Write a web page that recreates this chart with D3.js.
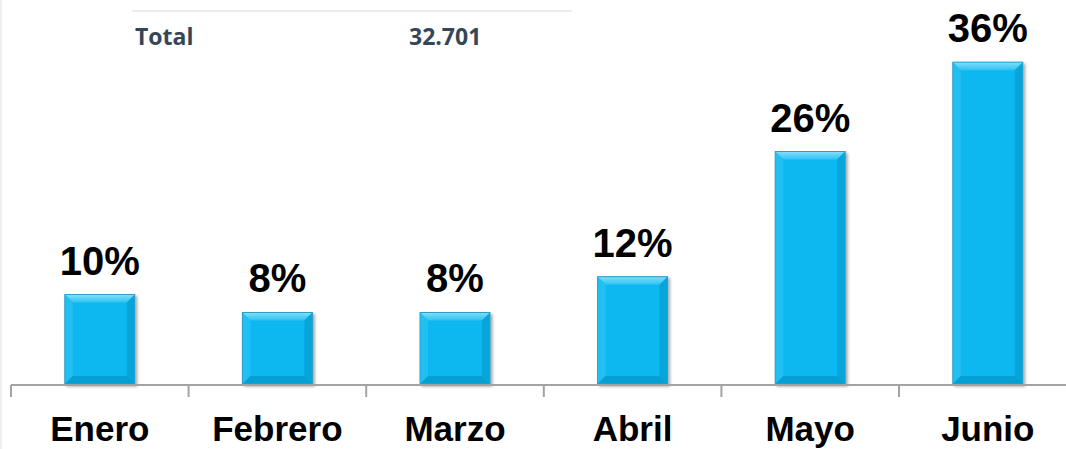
<!DOCTYPE html>
<html>
    <head>
        <script type="text/javascript" src="https://cdn.jsdelivr.net/npm/d3@7/dist/d3.min.js"></script>
        <style type="text/css">
            body { margin: 0; background: white; overflow: hidden; }
            .pct { font-family: "Liberation Sans", Arial, sans-serif; font-weight: bold; font-size: 40px; fill: black; }
            .cat { font-family: "Liberation Sans", Arial, sans-serif; font-weight: bold; font-size: 35px; fill: black; }
            .tbl { font-family: "Open Sans", sans-serif; font-weight: bold; font-size: 23px; fill: #344657; }
        </style>
    </head>
    <body>
        <script type="text/javascript">

            // data
            var months = ["Enero", "Febrero", "Marzo", "Abril", "Mayo", "Junio"];
            var values = [10, 8, 8, 12, 26, 36];
            var tableLabels = ["Total"];
            var tableValues = ["32.701"];

            var w = 1066;
            var h = 449;

            var svg = d3.select("body")
                        .append("svg")
                        .attr("width", w)
                        .attr("height", h);

            // filters / gradients
            var defs = svg.append("defs");
            var f = defs.append("filter").attr("id", "shadow")
                        .attr("x", "-20%").attr("y", "-20%").attr("width", "140%").attr("height", "140%");
            f.append("feDropShadow").attr("dx", 2).attr("dy", 2).attr("stdDeviation", 1.6)
             .attr("flood-color", "#000").attr("flood-opacity", 0.35);

            var gTop = defs.append("linearGradient").attr("id", "topBevel")
                           .attr("x1", 0).attr("y1", 0).attr("x2", 0).attr("y2", 1);
            gTop.append("stop").attr("offset", "0%").attr("stop-color", "#7fdcfa");
            gTop.append("stop").attr("offset", "100%").attr("stop-color", "#2cc3f3");

            // left light strip of the page
            svg.append("rect").attr("x", 0).attr("y", 0).attr("width", 2).attr("height", h).attr("fill", "#efefef");

            // table fragment at top
            svg.append("line").attr("x1", 132).attr("x2", 572).attr("y1", 11).attr("y2", 11)
               .attr("stroke", "#ececec").attr("stroke-width", 2);
            svg.append("text").attr("class", "tbl").attr("x", 134).attr("y", -3).text(",");
            svg.append("text").attr("class", "tbl").attr("x", 135).attr("y", 45).text(tableLabels[0]);
            svg.append("text").attr("class", "tbl").attr("x", 409).attr("y", 45).text(tableValues[0]);

            // scales
            var x = d3.scaleBand()
                      .domain(months)
                      .range([11, 1076.6])
                      .paddingInner(0.606)
                      .paddingOuter(0.303);

            var y = d3.scaleLinear()
                      .domain([0, 40])
                      .range([384, 26.4]);

            var b = 8; // bevel size

            var bars = svg.selectAll("g.bar")
                          .data(values)
                          .enter()
                          .append("g")
                          .attr("class", "bar")
                          .attr("transform", function(d, i) {
                              return "translate(" + x(months[i]) + "," + y(d) + ")";
                          });

            var bw = x.bandwidth();

            bars.append("rect")
                .attr("width", bw)
                .attr("height", function(d) { return y(0) - y(d); })
                .attr("fill", "#0db8f0")
                .attr("stroke", "#2a9cc4")
                .attr("stroke-width", 1)
                .attr("filter", "url(#shadow)");

            function poly(pts) {
                return pts.map(function(p) { return p.join(","); }).join(" ");
            }

            // top bevel
            bars.append("polygon")
                .attr("points", function() {
                    return poly([[0.5, 0.5], [bw - 0.5, 0.5], [bw - b, b], [b, b]]);
                })
                .attr("fill", "url(#topBevel)");
            // left bevel
            bars.append("polygon")
                .attr("points", function(d) {
                    var hh = y(0) - y(d);
                    return poly([[0.5, 0.5], [b, b], [b, hh - b], [0.5, hh - 0.5]]);
                })
                .attr("fill", "#22bff2");
            // right bevel
            bars.append("polygon")
                .attr("points", function(d) {
                    var hh = y(0) - y(d);
                    return poly([[bw - 0.5, 0.5], [bw - 0.5, hh - 0.5], [bw - b, hh - b], [bw - b, b]]);
                })
                .attr("fill", "#08a5da");
            // bottom bevel
            bars.append("polygon")
                .attr("points", function(d) {
                    var hh = y(0) - y(d);
                    return poly([[0.5, hh - 0.5], [bw - 0.5, hh - 0.5], [bw - b, hh - b], [b, hh - b]]);
                })
                .attr("fill", "#069fd3");

            // value labels
            svg.selectAll("text.pct")
               .data(values)
               .enter()
               .append("text")
               .attr("class", "pct")
               .attr("text-anchor", "middle")
               .attr("x", function(d, i) { return x(months[i]) + bw / 2; })
               .attr("y", function(d) { return y(d) - 20; })
               .text(function(d) { return d + "%"; });

            // axis line and ticks
            var axisY = 385;
            svg.append("line")
               .attr("x1", 11).attr("x2", w)
               .attr("y1", axisY).attr("y2", axisY)
               .attr("stroke", "#a3a3a3").attr("stroke-width", 2);

            var tickXs = months.map(function(m) { return x(m) - x.step() * x.paddingOuter(); });
            svg.selectAll("line.tick")
               .data(tickXs)
               .enter()
               .append("line")
               .attr("class", "tick")
               .attr("x1", function(d) { return d; })
               .attr("x2", function(d) { return d; })
               .attr("y1", axisY)
               .attr("y2", axisY + 12)
               .attr("stroke", "#a3a3a3").attr("stroke-width", 2);

            // category labels
            svg.selectAll("text.cat")
               .data(months)
               .enter()
               .append("text")
               .attr("class", "cat")
               .attr("text-anchor", "middle")
               .attr("x", function(d) { return x(d) + bw / 2; })
               .attr("y", 441)
               .text(function(d) { return d; });

        </script>
    </body>
</html>
